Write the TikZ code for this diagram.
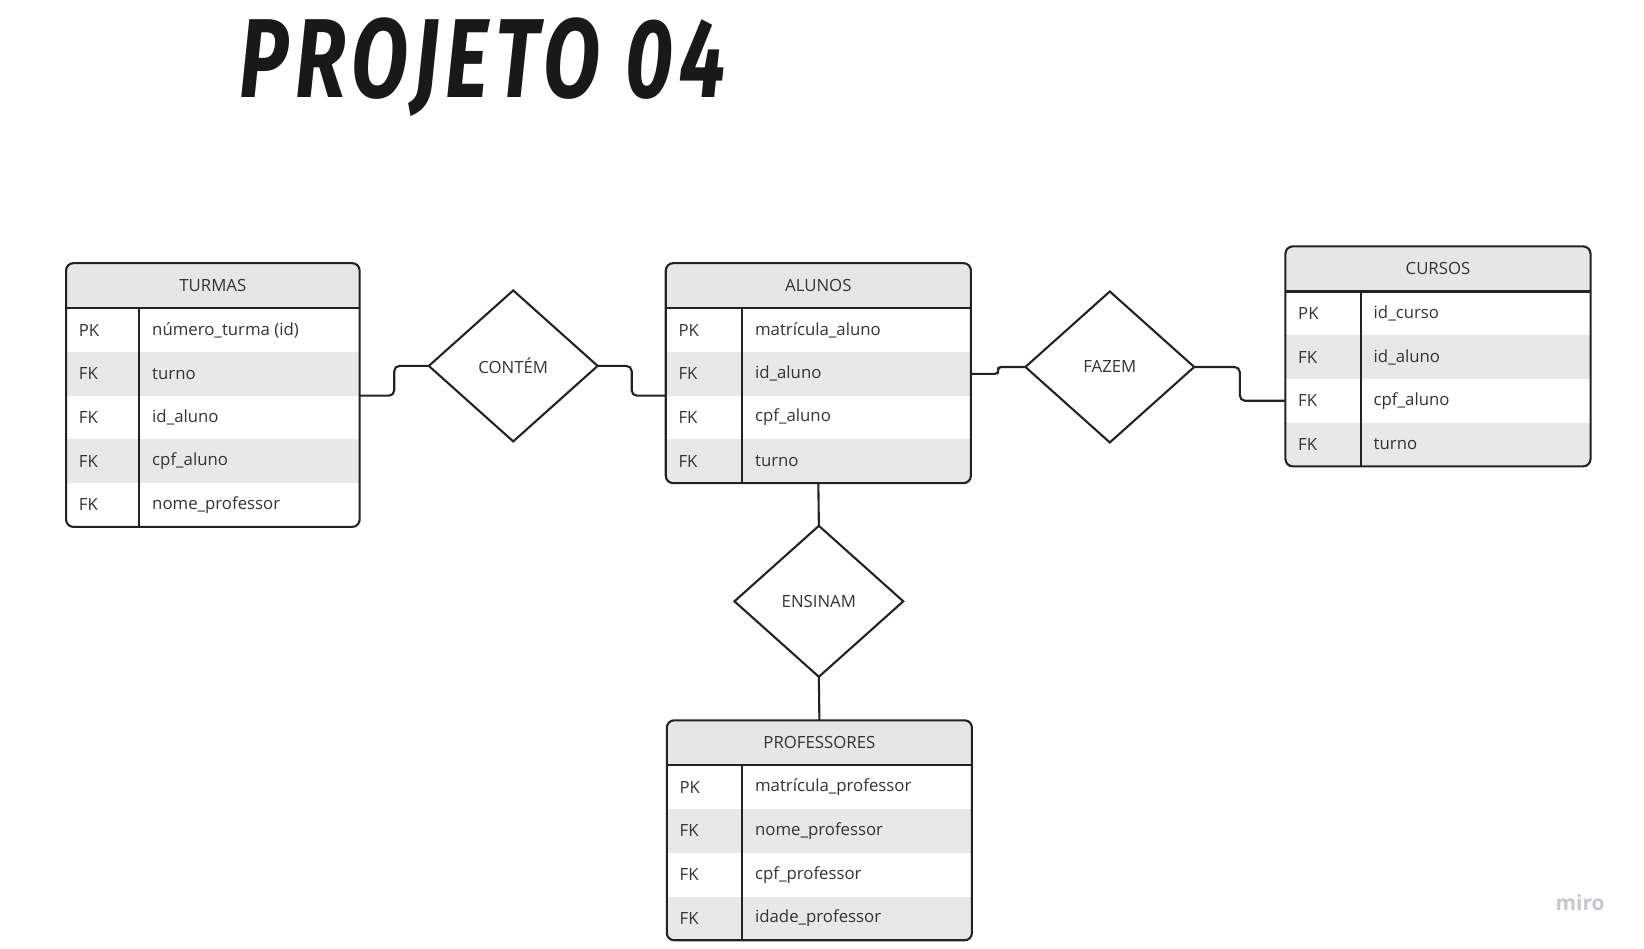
\documentclass[tikz,border=0pt]{standalone}
\usepackage{fontspec}
\setmainfont{Open Sans}
\newfontfamily\titlefont{Fira Sans}[LetterSpace=8]
\usetikzlibrary{shapes.geometric,calc}
\definecolor{ink}{HTML}{222222}
\definecolor{txt}{HTML}{333333}
\definecolor{hdr}{HTML}{E6E6E6}
\definecolor{rowg}{HTML}{E8E8E8}
\definecolor{mirog}{HTML}{C5C7D0}
\tikzset{
  tbl/.style={draw=ink, line width=2pt, rounded corners=7pt, inner sep=0pt, outer sep=0pt},
  sepline/.style={draw=ink, line width=2pt},
  celltext/.style={anchor=west, inner sep=0pt, text=txt, font=\fontsize{16}{19}\selectfont},
  headtext/.style={anchor=center, inner sep=0pt, text=txt, font=\fontsize{16}{19}\selectfont},
  rel/.style={diamond, draw=ink, line width=2pt, minimum width=161pt, minimum height=144pt,
    inner sep=0pt, outer sep=0pt, text=txt, font=\fontsize{16}{19}\selectfont},
  conn/.style={draw=ink, line width=2pt, rounded corners=5pt},
}
% #1 name, #2 left, #3 top, #4 width, #5 divider offset, #6 nrows, #7 title, #8 rows
\newcommand\ertable[8]{%
  \pgfmathsetmacro\ertR{#2+#4}%
  \pgfmathsetmacro\ertH{#3+43}%
  \pgfmathsetmacro\ertB{#3+43+#6*41.7}%
  \pgfmathsetmacro\ertHt{43+#6*41.7}%
  \pgfmathsetmacro\ertD{#2+#5}%
  \begin{scope}
    \clip[rounded corners=7pt] (#2,#3) rectangle (\ertR,\ertB);
    \fill[hdr] (#2,#3) rectangle (\ertR,\ertH);
    \foreach \k/\f/\s [count=\i from 0] in {#8}{%
      \ifnum\s=1 \fill[rowg] (#2,{\ertH+\i*41.7}) rectangle (\ertR,{\ertH+(\i+1)*41.7});\fi
    }
  \end{scope}
  \node[tbl, minimum width=#4pt, minimum height=\ertHt pt, anchor=north west] (#1) at (#2,#3) {};
  \draw[sepline] (#2,\ertH) -- (\ertR,\ertH);
  \draw[sepline] (\ertD,\ertH) -- (\ertD,\ertB);
  \node[headtext] (#1-title) at ({#2+#4/2},{#3+21.5}) {#7};
  \foreach \k/\f/\s [count=\i from 0] in {#8}{%
    \coordinate (#1-b\i) at (#2,{\ertH+\i*41.7});
    \coordinate (#1-c\i) at (#2,{\ertH+(\i+0.5)*41.7});
    \node[celltext] (#1-k\i) at ({#2+12},{\ertH+(\i+0.5)*41.7}) {\k};
    \node[celltext] (#1-f\i) at ({\ertD+12},{\ertH+(\i+0.5)*41.7}) {\f};
  }
}
\begin{document}
\begin{tikzpicture}[x=1pt,y=-1pt]
\fill[white] (0,0) rectangle (1568,905);
\useasboundingbox (0,0) rectangle (1568,905);

\node[anchor=base west, inner sep=0pt, text=black!90] (title) at (228,93)
  {\resizebox{464pt}{76pt}{\titlefont\fontseries{sb}\itshape PROJETO 04}};

\ertable{turmas}{63}{251}{280}{70}{5}{TURMAS}{PK/{número\_turma (id)}/0, FK/turno/1, FK/{id\_aluno}/0, FK/{cpf\_aluno}/1, FK/{nome\_professor}/0}
\ertable{alunos}{635}{251}{291}{73}{4}{ALUNOS}{PK/{matrícula\_aluno}/0, FK/{id\_aluno}/1, FK/{cpf\_aluno}/0, FK/turno/1}
\ertable{cursos}{1226}{235}{291}{72}{4}{CURSOS}{PK/{id\_curso}/0, FK/{id\_aluno}/1, FK/{cpf\_aluno}/0, FK/turno/1}
\ertable{professores}{636}{687}{291}{72}{4}{PROFESSORES}{PK/{matrícula\_professor}/0, FK/{nome\_professor}/1, FK/{cpf\_professor}/0, FK/{idade\_professor}/1}

\node[rel] (contem) at (489.5,349) {CONTÉM};
\node[rel] (fazem) at (1058.5,350) {FAZEM};
\node[rel] (ensinam) at (781,573.5) {ENSINAM};

\coordinate (p1) at (turmas.east |- turmas-b2);
\coordinate (p2) at (alunos.west |- alunos-b2);
\coordinate (p3) at (alunos.east |- alunos-c1);
\coordinate (p4) at (cursos.west |- cursos-c2);

\draw[conn] (p1) -| ($(p1)!.5!(contem.west)$) |- (contem.west);
\draw[conn] (contem.east) -| ($(contem.east)!.5!(p2)$) |- (p2);
\draw[conn, rounded corners=3pt] (p3) -| ($(p3)!.5!(fazem.west)$) |- (fazem.west);
\draw[conn] (fazem.east) -| ($(fazem.east)!.5!(p4)$) |- (p4);
\draw[conn] (alunos.south) -- (ensinam.north);
\draw[conn] (ensinam.south) -- (professores.north);

\node[inner sep=0pt, text=mirog, font=\fontsize{20}{20}\selectfont\fontseries{sb}\selectfont] (miro) at (1507,861) {miro};
\end{tikzpicture}
\end{document}
